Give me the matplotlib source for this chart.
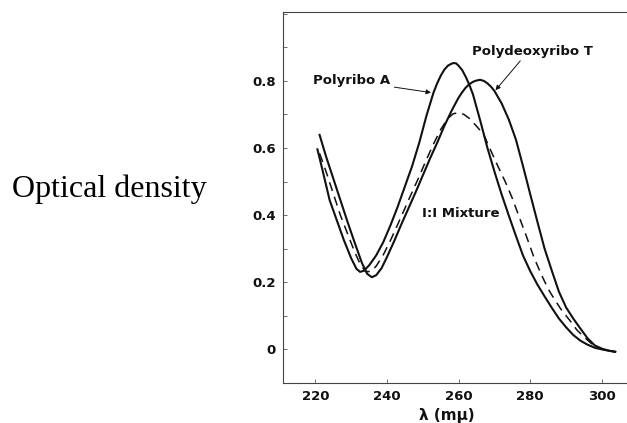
import numpy as np
import matplotlib
matplotlib.use("Agg")
import matplotlib.pyplot as plt
from matplotlib.ticker import MultipleLocator

# absorption spectra, wavelength in m-mu vs optical density
wl_a = [220.6, 222, 224, 226, 228, 230, 231.5, 232.5, 233.5, 235, 237, 239, 241, 243,
        245, 247, 249, 251, 253, 254, 255, 256, 257, 258, 258.6, 259.3, 260, 261, 262,
        263, 264, 266, 268, 270, 272, 274, 276, 278, 280, 282, 284, 286, 288, 290, 292,
        294, 296, 298, 300, 302, 303.7]
od_a = [0.596, 0.535, 0.445, 0.385, 0.325, 0.272, 0.240, 0.231, 0.234, 0.250, 0.280,
        0.320, 0.370, 0.425, 0.485, 0.545, 0.615, 0.695, 0.765, 0.792, 0.815, 0.833,
        0.845, 0.851, 0.853, 0.852, 0.845, 0.832, 0.812, 0.788, 0.760, 0.683, 0.602,
        0.530, 0.462, 0.399, 0.338, 0.279, 0.233, 0.193, 0.158, 0.124, 0.092, 0.066,
        0.043, 0.026, 0.014, 0.005, 0.000, -0.004, -0.007]

wl_t = [221.2, 223, 225, 227, 229, 231, 233, 234.5, 235.8, 237, 238.5, 240, 242, 244,
        246, 248, 250, 252, 254, 256, 258, 260, 261, 262, 263, 264, 265, 266, 267, 268,
        269, 270, 272, 274, 276, 278, 280, 282, 284, 286, 288, 290, 292, 294, 296, 298,
        300, 302, 303.7]
od_t = [0.639, 0.575, 0.510, 0.445, 0.380, 0.318, 0.258, 0.225, 0.215, 0.221, 0.242,
        0.275, 0.322, 0.372, 0.420, 0.468, 0.518, 0.568, 0.615, 0.665, 0.710, 0.750,
        0.766, 0.780, 0.790, 0.797, 0.801, 0.803, 0.800, 0.793, 0.783, 0.770, 0.733,
        0.685, 0.625, 0.545, 0.462, 0.380, 0.300, 0.235, 0.172, 0.125, 0.092, 0.062,
        0.033, 0.012, 0.002, -0.004, -0.007]

wl_mix = [221.2, 223, 225, 227, 229, 231, 232.5, 234, 235.5, 237, 239, 241, 243, 245,
          247, 249, 251, 253, 255, 257, 258.5, 260, 261.5, 263, 265, 267, 269, 271, 273,
          275, 277, 279, 281, 283, 285, 287, 289, 291, 293, 295, 297, 299, 301, 303.7]
od_mix = [0.584, 0.530, 0.465, 0.400, 0.345, 0.290, 0.255, 0.232, 0.232, 0.248, 0.282,
          0.325, 0.372, 0.420, 0.468, 0.515, 0.565, 0.612, 0.655, 0.688, 0.702, 0.705,
          0.700, 0.688, 0.665, 0.640, 0.592, 0.545, 0.500, 0.450, 0.392, 0.335, 0.275,
          0.225, 0.180, 0.145, 0.113, 0.087, 0.058, 0.037, 0.018, 0.006, -0.002, -0.007]

x_ticks = [220, 240, 260, 280, 300]
y_ticks = [0, 0.2, 0.4, 0.6, 0.8]
y_labels = ["0", "0.2", "0.4", "0.6", "0.8"]

ink = "#111111"
lbl = dict(fontsize=9.5, fontweight="bold", color=ink)

fig = plt.figure(figsize=(6.27, 4.23), dpi=100)
ax = fig.add_axes([0.4514, 0.0946, 0.5486, 0.877])

ax.plot(wl_a, od_a, color=ink, lw=1.5, solid_joinstyle="round")
ax.plot(wl_t, od_t, color=ink, lw=1.5, solid_joinstyle="round")
ax.plot(wl_mix, od_mix, color=ink, lw=1.1, dashes=(6, 4))

ax.set_xlim(211, 307)
ax.set_ylim(-0.1, 1.005)
ax.set_xticks(x_ticks)
ax.set_yticks(y_ticks)
ax.set_yticklabels(y_labels)
ax.yaxis.set_minor_locator(MultipleLocator(0.1))
ax.tick_params(which="both", direction="in", length=3, width=0.6, colors="#555555",
               labelcolor=ink, labelsize=9.5)
for t in ax.get_xticklabels() + ax.get_yticklabels():
    t.set_fontweight("bold")
ax.tick_params(axis="y", pad=5)
ax.tick_params(axis="x", pad=5)

ax.spines["right"].set_visible(False)
for s in ("left", "top", "bottom"):
    ax.spines[s].set_linewidth(0.8)
    ax.spines[s].set_color("#444444")

# curve labels with pointer lines
ax.annotate("Polyribo A", xy=(252.3, 0.765), xytext=(219.4, 0.80),
            va="center", ha="left", **lbl,
            arrowprops=dict(arrowstyle="-|>", color=ink, lw=0.7,
                            mutation_scale=7, shrinkA=1, shrinkB=0))
ax.annotate("Polydeoxyribo T", xy=(270.3, 0.772), xytext=(263.7, 0.887),
            va="center", ha="left", **lbl,
            arrowprops=dict(arrowstyle="-|>", color=ink, lw=0.7,
                            mutation_scale=7, shrinkA=0, shrinkB=0,
                            relpos=(0.42, 0.0)))
ax.text(249.8, 0.406, "I:I Mixture", va="center", ha="left", **lbl)

ax.text(0.477, -0.067, "λ (mμ)", transform=ax.transAxes, ha="center", va="top",
        fontsize=11, fontweight="bold", color=ink)

fig.text(0.0191, 0.535, "Optical density", fontsize=23, family="Liberation Serif",
         va="baseline", ha="left", color="black")

fig.savefig("out.png", dpi=100)
